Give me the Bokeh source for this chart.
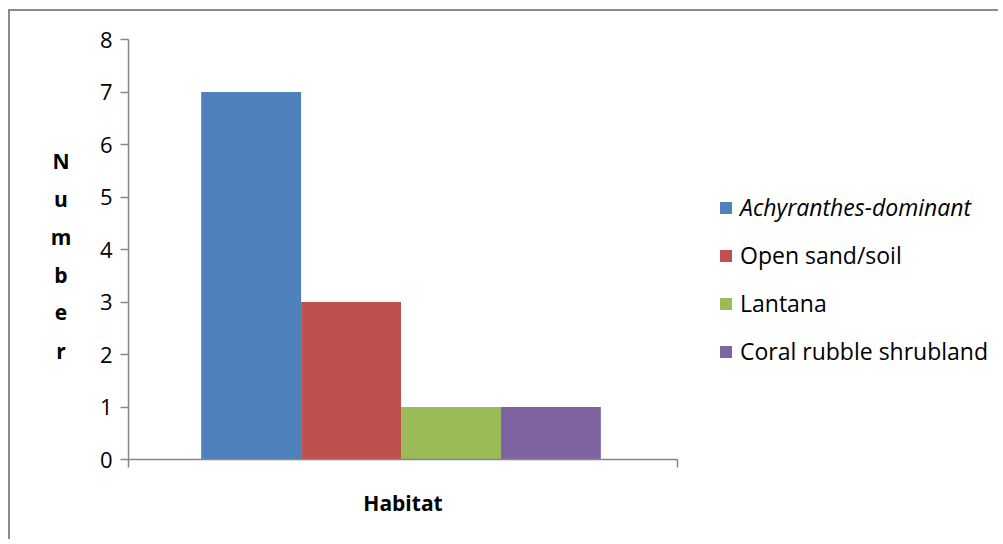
from bokeh.plotting import figure
from bokeh.models import (ColumnDataSource, Legend, LegendItem, FixedTicker, Label, Range1d)
from bokeh.embed import file_html
from bokeh.resources import INLINE

categories = ["Achyranthes-dominant", "Open sand/soil", "Lantana", "Coral rubble shrubland"]
values = [7, 3, 1, 1]
colors = ["#4F81BD", "#C0504D", "#9BBB59", "#8064A2"]
y_ticks = [0, 1, 2, 3, 4, 5, 6, 7, 8]
y_title_letters = list("Number")

FONT = "Open Sans"
bar_w = 0.182
xs = [0.4964 + (i - 1.5) * bar_w for i in range(len(categories))]

W, H = 990, 530
# canvas origin in picture at (10, 11); plot area 128..677 (x), 39..459 (y)
ox, oy = 10, 11
px_per_x = 549.0
px_per_y = 52.5
x0 = (ox - 128) / px_per_x
x1 = (ox + W - 128) / px_per_x
y1 = (459 - oy) / px_per_y
y0 = (459 - (oy + H)) / px_per_y

p = figure(width=W, height=H, output_backend="svg", toolbar_location=None,
           x_range=Range1d(x0, x1), y_range=Range1d(y0, y1),
           min_border=0)
p.styles = {"margin-left": "8px", "margin-top": "9px",
            "border-left": "2px solid #8a8a8a", "border-top": "2px solid #8a8a8a"}
p.outline_line_color = None
p.xgrid.visible = False
p.ygrid.visible = False

renderers = []
for i, c in enumerate(categories):
    src = ColumnDataSource(dict(x=[xs[i]], top=[values[i]]))
    r = p.vbar(x="x", top="top", bottom=0, width=bar_w, source=src,
               fill_color=colors[i], line_color=None)
    renderers.append(r)

# y axis
ya = p.yaxis[0]
ya.fixed_location = 0
ya.bounds = (0, 8)
ya.ticker = FixedTicker(ticks=y_ticks)
ya.minor_tick_line_color = None
ya.major_tick_in = 0
ya.major_tick_out = 8
ya.axis_line_color = "#868686"
ya.axis_line_width = 1.5
ya.major_tick_line_color = "#868686"
ya.major_tick_line_width = 1.5
ya.major_label_text_font = FONT
ya.major_label_text_font_size = "22px"
ya.major_label_text_color = "black"
ya.major_label_standoff = 8

# x axis
xa = p.xaxis[0]
xa.fixed_location = 0
xa.bounds = (0, 1)
xa.ticker = FixedTicker(ticks=[0, 1])
xa.minor_tick_line_color = None
xa.major_tick_in = 0
xa.major_tick_out = 8
xa.major_label_overrides = {0: " ", 1: " "}
xa.major_label_text_font_size = "1px"
xa.axis_line_color = "#868686"
xa.axis_line_width = 1.5
xa.major_tick_line_color = "#868686"
xa.major_tick_line_width = 1.5
xa.axis_label = "Habitat"
xa.axis_label_text_font = FONT
xa.axis_label_text_font_style = "bold"
xa.axis_label_text_font_size = "21px"
xa.axis_label_text_color = "black"
xa.axis_label_standoff = 12

# vertical y-axis title, one letter per line
letter_px = [160, 198, 236, 274, 312, 350]
for ch, py in zip(y_title_letters, letter_px):
    p.add_layout(Label(x=(60.5 - 128) / px_per_x, y=(459 - py) / px_per_y, text=ch,
                       text_font=FONT, text_font_style="bold", text_font_size="21px",
                       text_color="black", text_align="center", text_baseline="middle"))

# legends (first entry italic)
leg_x = 718 - ox
leg1 = Legend(items=[LegendItem(label=categories[0], renderers=[renderers[0]])],
              location=(leg_x, oy + H - 223), label_text_font_style="italic")
leg2 = Legend(items=[LegendItem(label=c, renderers=[r]) for c, r in zip(categories[1:], renderers[1:])],
              location=(leg_x, oy + H - 367))
for lg in (leg1, leg2):
    lg.border_line_color = None
    lg.background_fill_alpha = 0
    lg.label_text_font = FONT
    lg.label_text_font_size = "23px"
    lg.label_text_color = "black"
    lg.glyph_width = 15
    lg.glyph_height = 15
    lg.label_standoff = 7
    lg.padding = 0
    lg.margin = 0
    lg.label_height = 20
leg1.spacing = 22
leg2.spacing = 16
p.add_layout(leg1)
p.add_layout(leg2)

open("out.html", "w").write(file_html(p, INLINE))
